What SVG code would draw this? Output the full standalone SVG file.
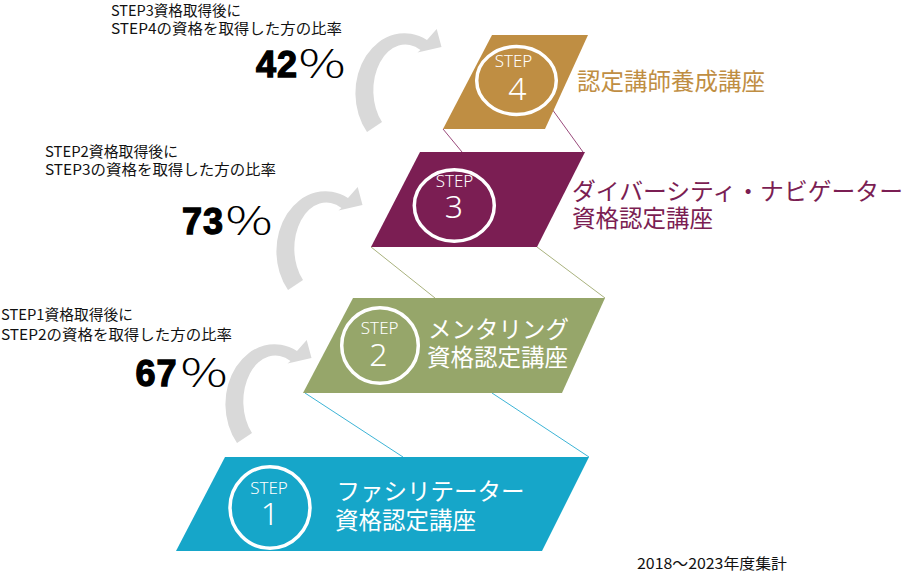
<svg xmlns="http://www.w3.org/2000/svg" xmlns:xlink="http://www.w3.org/1999/xlink" width="904" height="573" viewBox="0 0 904 573">
<style>
.lbl{font-family:"Noto Sans CJK JP","Noto Sans",sans-serif;font-size:14.5px;fill:#111}
.pct{font-family:"Liberation Sans",Arial,sans-serif;font-weight:bold;font-size:36px;fill:#000;stroke:#000;stroke-width:1.3;letter-spacing:1px}
.pc{font-family:"Noto Sans CJK JP",sans-serif;font-weight:300;font-size:37px;fill:#000}
.step{font-family:"Noto Sans","Noto Sans CJK JP",sans-serif;font-weight:300;font-size:17px;fill:#fff;text-anchor:middle}
.num{font-family:"Noto Sans","Noto Sans CJK JP",sans-serif;font-weight:300;font-size:32px;fill:#fff;text-anchor:middle}
.title{font-family:"Noto Sans CJK JP","Noto Sans",sans-serif;font-size:23.5px}
.ring{fill:none;stroke:#fff;stroke-width:3.5}
.arrow{fill:#D9D9D9}
.c4{stroke:#9A4A7C;stroke-width:1;fill:none}
.c3{stroke:#A9B27E;stroke-width:1;fill:none}
.c2{stroke:#3DB4D6;stroke-width:1;fill:none}
</style>
<defs>
<path id="arw" d="M367,132 A49 60 0 0 1 427,40 L436.7,29 L441.5,47 L417.5,52.5 L420.5,50 A32 46 0 0 0 382,122 Z"/>
</defs>
<g id="connectors">
<line class="c4" x1="443" y1="129" x2="462" y2="152"/>
<line class="c4" x1="552" y1="109" x2="583" y2="152"/>
<line class="c3" x1="371" y1="247" x2="435" y2="298"/>
<line class="c3" x1="537" y1="247" x2="605" y2="298"/>
<line class="c2" x1="305" y1="393" x2="403" y2="457"/>
<line class="c2" x1="492" y1="393" x2="589" y2="457"/>
<use href="#arw" xlink:href="#arw" class="arrow"/>
<use href="#arw" xlink:href="#arw" class="arrow" transform="translate(-79,158)"/>
<use href="#arw" xlink:href="#arw" class="arrow" transform="translate(-130,311)"/>
</g>
<g id="step4">
<polygon points="492,35 588,35 545,129 443,129" fill="#BF8E43"/>
<ellipse class="ring" cx="516.5" cy="80.5" rx="39.8" ry="34"/>
<text class="step" x="513.5" y="66.5">STEP</text>
<text class="num" x="517.5" y="100">4</text>
<text class="title" x="577" y="90" fill="#BF8E43">認定講師養成講座</text>
</g>
<g id="step3">
<polygon points="420,152 585,152 537,247 371,247" fill="#7B1E53"/>
<ellipse class="ring" cx="454.3" cy="205.5" rx="40" ry="35.8"/>
<text class="step" x="454.5" y="186.7">STEP</text>
<text class="num" x="454" y="218.3">3</text>
<text class="title" x="572" y="200" fill="#7B1E53" textLength="331" lengthAdjust="spacingAndGlyphs">ダイバーシティ・ナビゲーター</text>
<text class="title" x="572" y="227" fill="#7B1E53">資格認定講座</text>
</g>
<g id="step2">
<polygon points="353,298 605,298 562,393 303,393" fill="#96A66A"/>
<ellipse class="ring" cx="380" cy="345.5" rx="38.3" ry="37.8"/>
<text class="step" x="379.7" y="334">STEP</text>
<text class="num" x="378.5" y="366">2</text>
<text class="title" x="428" y="338" fill="#fff">メンタリング</text>
<text class="title" x="427" y="366" fill="#fff">資格認定講座</text>
</g>
<g id="step1">
<polygon points="225,457 589,457 542,551 176,551" fill="#16A6C9"/>
<ellipse class="ring" cx="270" cy="507.5" rx="40" ry="40.8"/>
<text class="step" x="269" y="494">STEP</text>
<text class="num" x="270" y="525">1</text>
<text class="title" x="336.5" y="500" fill="#fff">ファシリテーター</text>
<text class="title" x="335" y="528.5" fill="#fff">資格認定講座</text>
</g>
<g id="rate3">
<text class="lbl" x="111" y="16" textLength="130" lengthAdjust="spacingAndGlyphs">STEP3資格取得後に</text>
<text class="lbl" x="111" y="34" textLength="231" lengthAdjust="spacingAndGlyphs">STEP4の資格を取得した方の比率</text>
<text class="pct" x="256" y="77">42</text>
<text class="pc" x="296" y="78" textLength="52" lengthAdjust="spacingAndGlyphs">％</text>
</g>
<g id="rate2">
<text class="lbl" x="45" y="157" textLength="133" lengthAdjust="spacingAndGlyphs">STEP2資格取得後に</text>
<text class="lbl" x="45" y="175" textLength="231" lengthAdjust="spacingAndGlyphs">STEP3の資格を取得した方の比率</text>
<text class="pct" x="182" y="234">73</text>
<text class="pc" x="223" y="235" textLength="52" lengthAdjust="spacingAndGlyphs">％</text>
</g>
<g id="rate1">
<text class="lbl" x="1" y="320" textLength="132" lengthAdjust="spacingAndGlyphs">STEP1資格取得後に</text>
<text class="lbl" x="1" y="340" textLength="231" lengthAdjust="spacingAndGlyphs">STEP2の資格を取得した方の比率</text>
<text class="pct" x="135.5" y="386">67</text>
<text class="pc" x="178" y="387" textLength="52" lengthAdjust="spacingAndGlyphs">％</text>
</g>
<text class="lbl" x="637" y="569" textLength="150" lengthAdjust="spacingAndGlyphs" style="font-size:15px">2018～2023年度集計</text>
</svg>
